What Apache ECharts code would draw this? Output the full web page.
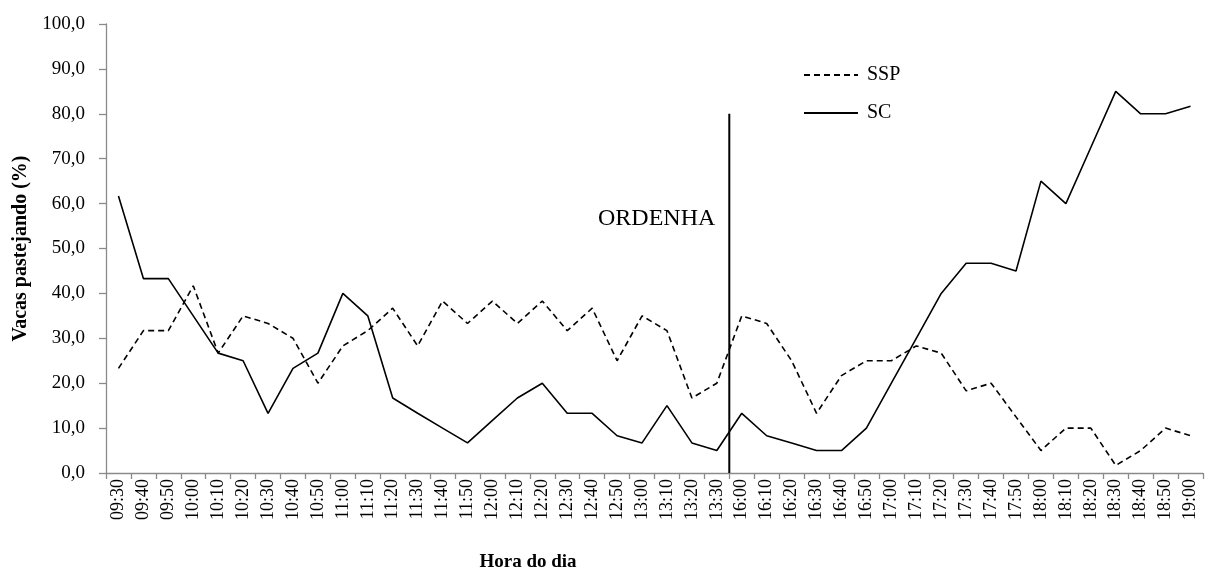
<!DOCTYPE html>
<html>
<head>
<meta charset="utf-8">
<script src="https://cdn.jsdelivr.net/npm/echarts@6/dist/echarts.min.js"></script>
<style>
html,body{margin:0;padding:0;background:#fff;}
#chart{width:1205px;height:572px;}
</style>
</head>
<body>
<div id="chart"></div>
<script>
const categories = ['09:30','09:40','09:50','10:00','10:10','10:20','10:30','10:40','10:50','11:00','11:10','11:20','11:30','11:40','11:50','12:00','12:10','12:20','12:30','12:40','12:50','13:00','13:10','13:20','13:30','16:00','16:10','16:20','16:30','16:40','16:50','17:00','17:10','17:20','17:30','17:40','17:50','18:00','18:10','18:20','18:30','18:40','18:50','19:00'];
const sspValues = [23.3,31.7,31.7,41.7,26.7,35.0,33.3,30.0,20.0,28.3,31.7,36.7,28.3,38.3,33.3,38.3,33.3,38.3,31.7,36.7,25.0,35.0,31.7,16.7,20.0,35.0,33.3,25.0,13.3,21.7,25.0,25.0,28.3,26.7,18.3,20.0,12.5,5.0,10.0,10.0,1.7,5.0,10.0,8.3];
const scValues = [61.7,43.3,43.3,35.0,26.7,25.0,13.3,23.3,26.7,40.0,35.0,16.7,13.3,10.0,6.7,11.7,16.7,20.0,13.3,13.3,8.3,6.7,15.0,6.7,5.0,13.3,8.3,6.7,5.0,5.0,10.0,20.0,30.0,40.0,46.7,46.7,45.0,65.0,60.0,72.5,85.0,80.0,80.0,81.7];
const yTicks = [0,10,20,30,40,50,60,70,80,90,100];
// milking marker: boundary between 13:30 and 16:00 (category slot index), height in %
const ordenhaSlot = [25, 25];
const ordenhaHeight = [0, 80];
const ordenhaLabel = 'ORDENHA';

const serif = '"Liberation Serif", "Times New Roman", serif';
const axisGray = '#8a8a8a';

const chart = echarts.init(document.getElementById('chart'), null, {renderer: 'canvas'});
chart.setOption({
  animation: false,
  backgroundColor: '#ffffff',
  grid: {left: 106, right: 2, top: 24, bottom: 99, containLabel: false, outerBoundsMode: 'none'},
  legend: {
    orient: 'vertical',
    left: 798,
    top: 60,
    itemWidth: 54,
    itemHeight: 16,
    itemGap: 18,
    data: ['SSP', 'SC'],
    itemStyle: {color: 'rgba(0,0,0,0)', borderWidth: 0, borderColor: 'rgba(0,0,0,0)'},
    textStyle: {fontFamily: serif, fontSize: 20, color: '#000', padding: [0, 0, 0, 4]}
  },
  xAxis: [{
    type: 'category',
    data: categories,
    boundaryGap: true,
    axisLine: {lineStyle: {color: axisGray, width: 1.3}},
    axisTick: {show: true, interval: 0, length: 6, lineStyle: {color: axisGray, width: 1.3}},
    axisLabel: {interval: 0, rotate: 90, margin: 6, fontFamily: serif, fontSize: 18, color: '#000'},
    name: 'Hora do dia',
    nameLocation: 'middle',
    nameGap: 80,
    nameTextStyle: {fontFamily: serif, fontSize: 19, fontWeight: 'bold', color: '#000', padding: [0, 253, 0, 0]}
  }, {
    type: 'value',
    min: 0,
    max: categories.length,
    show: false
  }],
  yAxis: {
    type: 'value',
    min: yTicks[0],
    max: yTicks[yTicks.length - 1],
    interval: 10,
    splitLine: {show: false},
    axisLine: {show: true, lineStyle: {color: axisGray, width: 1.3}},
    axisTick: {show: true, length: 7, lineStyle: {color: axisGray, width: 1.3}},
    axisLabel: {
      margin: 21,
      fontFamily: serif, fontSize: 19, color: '#000',
      formatter: v => v.toFixed(1).replace('.', ',')
    },
    name: 'Vacas pastejando (%)',
    nameLocation: 'middle',
    nameGap: 75,
    nameTextStyle: {fontFamily: serif, fontSize: 20, fontWeight: 'bold', color: '#000'}
  },
  series: [{
    name: 'SSP',
    type: 'line',
    data: sspValues,
    symbol: 'none',
    lineStyle: {color: '#000', width: 1.6, type: [6, 4]},
    itemStyle: {color: '#000'}
  }, {
    name: 'SC',
    type: 'line',
    data: scValues,
    symbol: 'none',
    lineStyle: {color: '#000', width: 1.6, type: 'solid'},
    itemStyle: {color: '#000'}
  }, {
    name: 'ordenha',
    type: 'line',
    xAxisIndex: 1,
    data: ordenhaSlot.map((s, i) => [s, ordenhaHeight[i]]),
    symbol: 'none',
    lineStyle: {color: '#000', width: 2},
    silent: true
  }],
  graphic: [{
    type: 'text',
    left: 598,
    top: 207,
    style: {text: ordenhaLabel, fontFamily: serif, fontSize: 24, fill: '#000'}
  }]
});
</script>
</body>
</html>
